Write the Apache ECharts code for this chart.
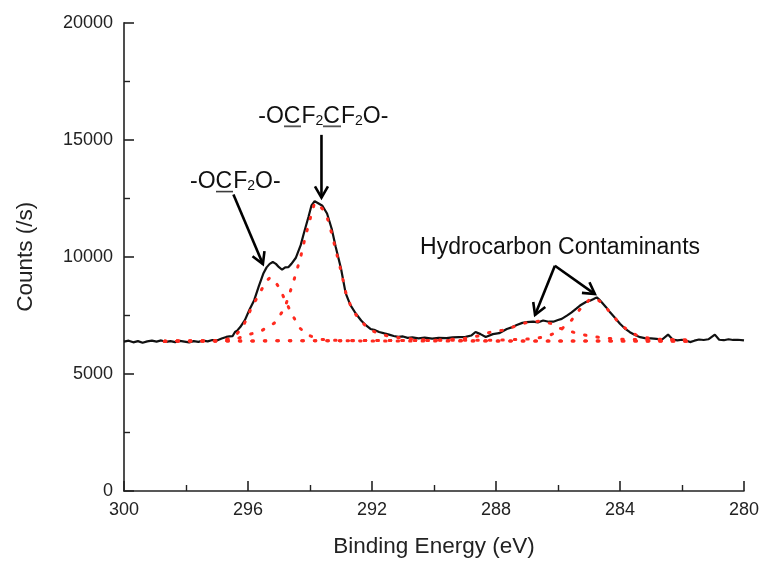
<!DOCTYPE html>
<html><head><meta charset="utf-8">
<script src="https://cdn.jsdelivr.net/npm/echarts@6/dist/echarts.min.js"></script>
<style>html,body{margin:0;padding:0;background:#fff}#c{width:762px;height:563px}</style>
</head><body><div id="c"></div>
<script>
// Measured spectrum (binding energy in eV, counts per second)
const energy = [300.0,299.85,299.7,299.55,299.4,299.25,299.1,298.95,298.8,298.65,298.5,298.35,298.2,298.05,297.9,297.75,297.6,297.45,297.3,297.15,297.0,296.85,296.7,296.6,296.5,296.42,296.35,296.25,296.1,295.95,295.8,295.65,295.5,295.4,295.3,295.2,295.1,295.0,294.9,294.8,294.7,294.6,294.46,294.3,294.2,294.05,293.95,293.85,293.75,293.6,293.45,293.3,293.17,293.0,292.85,292.7,292.53,292.35,292.2,292.05,291.9,291.77,291.6,291.45,291.3,291.15,291.0,290.85,290.7,290.5,290.3,290.06,289.85,289.6,289.4,289.2,288.98,288.8,288.66,288.5,288.33,288.1,287.9,287.65,287.47,287.33,287.15,287.01,286.8,286.65,286.48,286.3,286.15,286.0,285.88,285.7,285.56,285.4,285.29,285.1,284.97,284.85,284.75,284.65,284.59,284.45,284.32,284.15,284.0,283.85,283.68,283.5,283.35,283.2,283.0,282.82,282.65,282.45,282.3,282.15,282.0,281.87,281.74,281.6,281.45,281.3,281.15,280.94,280.8,280.65,280.5,280.35,280.2,280.0];
const counts = [6380,6420,6350,6400,6330,6390,6420,6380,6430,6370,6400,6360,6410,6380,6350,6400,6370,6420,6390,6450,6430,6510,6580,6600,6610,6790,6850,7000,7300,7750,8150,8750,9300,9550,9700,9780,9700,9560,9450,9550,9560,9700,9950,10500,11000,11700,12200,12380,12300,12180,11850,11200,10420,9500,8450,7950,7590,7280,7080,6920,6870,6790,6730,6680,6620,6580,6600,6540,6560,6520,6550,6510,6540,6530,6560,6570,6580,6640,6790,6700,6580,6700,6740,6920,7000,7090,7180,7210,7230,7200,7280,7230,7230,7300,7350,7500,7630,7800,7920,8070,8130,8200,8270,8150,8060,7850,7630,7380,7140,6950,6780,6650,6570,6530,6520,6500,6460,6680,6470,6430,6460,6430,6360,6420,6470,6450,6480,6680,6460,6440,6480,6450,6460,6430];

// Fitted components (dotted red)
const comp1E = [298.7,297.5,297.0,296.6,296.4,296.2,296.1,295.88,295.67,295.5,295.4,295.3,295.2,295.02,294.8,294.59,294.32,294.1,293.89,293.6,293.0,292.0,281.7];
const comp1V = [6400,6405,6420,6500,6650,6950,7200,7850,8340,8750,8980,9100,9080,8740,8150,7560,6950,6680,6570,6470,6420,6405,6400];
const comp2E = [298.7,297.0,296.5,296.04,295.61,295.15,294.83,294.68,294.48,294.3,294.16,294.0,293.93,293.85,293.75,293.6,293.45,293.3,293.17,293.0,292.85,292.7,292.53,292.35,292.2,292.0,291.77,291.5,291.0,290.5,290.0,289.0,288.0,281.7];
const comp2V = [6400,6410,6430,6660,6810,7170,7770,8340,9170,10000,10800,11600,11960,12300,12250,12050,11700,11000,10300,9400,8500,7950,7550,7250,7050,6850,6720,6620,6520,6470,6440,6420,6410,6400];
const comp3E = [298.7,290.0,289.0,288.5,288.19,287.7,287.3,287.0,286.6,286.2,285.94,285.5,285.07,284.5,284.0,283.0,281.7];
const comp3V = [6400,6430,6520,6640,6780,6880,7080,7200,7250,7150,6950,6780,6640,6530,6480,6455,6450];
const comp4E = [298.7,288.0,287.5,286.8,286.3,285.9,285.56,285.3,285.0,284.8,284.59,284.32,284.0,283.68,283.35,282.8,282.0,281.7];
const comp4V = [6400,6440,6460,6500,6620,6900,7300,7750,8150,8230,8050,7630,7130,6800,6580,6480,6455,6450];

// Axis settings
const xTicks = [300,296,292,288,284,280];
const yTicks = [0,5000,10000,15000,20000];

const FONT = '"Liberation Sans", Arial, Helvetica, sans-serif';
const chart = echarts.init(document.getElementById('c'), null, {renderer:'canvas'});
function pairs(xs, ys){ return xs.map((x,i)=>[x, ys[i]]); }
function dotted(name, xs, ys){
  return {type:'line', name, data:pairs(xs,ys), symbol:'none', showSymbol:false, silent:true, z:3,
    lineStyle:{color:'#ff2a1f', width:3, type:[1.5,11], cap:'round'}};
}
const axisCol = '#222';
chart.setOption({
  animation:false,
  backgroundColor:'#fff',
  grid:{left:124, right:18, top:22.7, bottom:70.3, containLabel:false},
  xAxis:{type:'value', inverse:true, min:xTicks[xTicks.length-1], max:xTicks[0], interval:4,
    name:'Binding Energy (eV)', nameLocation:'middle', nameGap:44,
    nameTextStyle:{fontFamily:FONT, fontSize:22.5, color:axisCol},
    axisLine:{show:true, lineStyle:{color:axisCol, width:1.6}},
    axisTick:{show:true, inside:true, length:10, lineStyle:{color:axisCol, width:1.6}},
    minorTick:{show:true, splitNumber:2, length:6, lineStyle:{color:axisCol, width:1.4}},
    splitLine:{show:false},
    axisLabel:{fontFamily:FONT, fontSize:18, color:axisCol, margin:10, formatter:v=>String(v)}},
  yAxis:{type:'value', min:yTicks[0], max:yTicks[yTicks.length-1], interval:5000,
    name:'Counts (/s)', nameLocation:'middle', nameGap:87, nameRotate:90,
    nameTextStyle:{fontFamily:FONT, fontSize:22.5, color:axisCol},
    axisLine:{show:true, lineStyle:{color:axisCol, width:1.6}},
    axisTick:{show:true, inside:true, length:10, lineStyle:{color:axisCol, width:1.6}},
    minorTick:{show:true, splitNumber:2, length:6, lineStyle:{color:axisCol, width:1.4}},
    splitLine:{show:false},
    axisLabel:{fontFamily:FONT, fontSize:18, color:axisCol, margin:11, formatter:v=>String(v)}},
  series:[
    {type:'line', name:'data', data:pairs(energy,counts), symbol:'none', showSymbol:false, silent:true, z:2,
      lineStyle:{color:'#111', width:2.2}},
    dotted('c1', comp1E, comp1V),
    dotted('c2', comp2E, comp2V),
    dotted('c3', comp3E, comp3V),
    dotted('c4', comp4E, comp4V)
  ]
});

// Annotations (anchored in data coordinates)
function px(p){ return chart.convertToPixel({gridIndex:0}, p); }
const ulCanvas = document.createElement('canvas');
ulCanvas.width = 20; ulCanvas.height = 26;
(function(){ const g = ulCanvas.getContext('2d'); g.fillStyle = '#222'; g.fillRect(0, 23, 20, 1.6); })();
const rich = {
  n:{fontSize:23, fontFamily:FONT, color:'#111', lineHeight:26, verticalAlign:'bottom'},
  u:{fontSize:23, fontFamily:FONT, color:'#111', lineHeight:26, verticalAlign:'bottom', backgroundColor:{image:ulCanvas}},
  s:{fontSize:14, fontFamily:FONT, color:'#111', lineHeight:14, padding:[6,0,0,0], verticalAlign:'bottom'}
};
const labels = [
  {at:[297.87, 13264], text:'{n|-O}{u|C}{n|F}{s|2}{n|O-}'},
  {at:[295.67, 16051], text:'{n|-O}{u|C}{n|F}{s|2}{u|C}{n|F}{s|2}{n|O-}'},
  {at:[290.45, 10468], text:'{n|Hydrocarbon Contaminants}'}
];
const arrows = [
  [[296.47, 12660],[295.52, 9690]],
  [[293.63, 15210],[293.63, 12530]],
  [[286.10, 9620],[286.74, 7520]],
  [[286.10, 9620],[284.81, 8410]]
];
const gr = [];
labels.forEach(l=>{
  const p = px(l.at);
  gr.push({type:'text', x:p[0], y:p[1], z:10, silent:true,
    style:{text:l.text, rich:rich, align:'left', verticalAlign:'middle', fontFamily:FONT, fontSize:23, fill:'#111'}});
});
arrows.forEach(a=>{
  const s = px(a[0]), t = px(a[1]);
  gr.push({type:'polyline', z:10, silent:true, shape:{points:[s,t]}, style:{stroke:'#000', lineWidth:2.6, fill:null}});
  const dx = t[0]-s[0], dy = t[1]-s[1], len = Math.hypot(dx,dy);
  const ux = dx/len, uy = dy/len, L = 13, ang = 30*Math.PI/180;
  const w1 = [t[0]-L*(ux*Math.cos(ang)-uy*Math.sin(ang)), t[1]-L*(uy*Math.cos(ang)+ux*Math.sin(ang))];
  const w2 = [t[0]-L*(ux*Math.cos(-ang)-uy*Math.sin(-ang)), t[1]-L*(uy*Math.cos(-ang)+ux*Math.sin(-ang))];
  gr.push({type:'polyline', z:10, silent:true, shape:{points:[w1,t,w2]}, style:{stroke:'#000', lineWidth:2.6, fill:null, lineJoin:'miter'}});
});
chart.setOption({graphic:gr});
</script></body></html>
